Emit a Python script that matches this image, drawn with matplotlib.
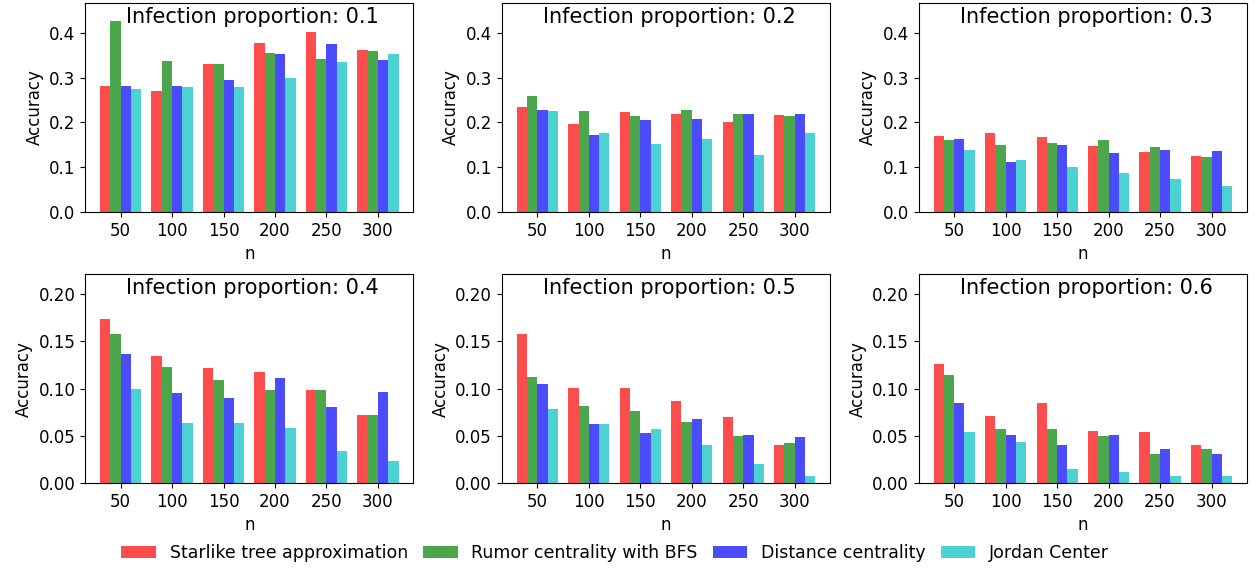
import numpy as np
import matplotlib
matplotlib.use("Agg")
import matplotlib.pyplot as plt

# Problem sizes on the x axis
n_values = [50, 100, 150, 200, 250, 300]
proportions = [0.1, 0.2, 0.3, 0.4, 0.5, 0.6]
methods = ["Starlike tree approximation", "Rumor centrality with BFS",
           "Distance centrality", "Jordan Center"]

# Accuracy per method, one row per n value
starlike = [
    [0.281, 0.271, 0.330, 0.378, 0.402, 0.361],  # 0.1
    [0.235, 0.196, 0.223, 0.219, 0.201, 0.216],  # 0.2
    [0.169, 0.176, 0.167, 0.147, 0.134, 0.124],  # 0.3
    [0.174, 0.134, 0.122, 0.118, 0.098, 0.072],  # 0.4
    [0.158, 0.101, 0.101, 0.087, 0.070, 0.040],  # 0.5
    [0.126, 0.071, 0.085, 0.055, 0.054, 0.040],  # 0.6
]
rumor = [
    [0.427, 0.337, 0.331, 0.356, 0.341, 0.360],
    [0.260, 0.225, 0.214, 0.227, 0.219, 0.214],
    [0.160, 0.149, 0.154, 0.161, 0.145, 0.122],
    [0.158, 0.123, 0.109, 0.098, 0.098, 0.072],
    [0.112, 0.082, 0.076, 0.065, 0.050, 0.042],
    [0.114, 0.057, 0.057, 0.050, 0.031, 0.036],
]
distance = [
    [0.281, 0.281, 0.295, 0.354, 0.375, 0.339],
    [0.227, 0.171, 0.205, 0.207, 0.219, 0.218],
    [0.163, 0.111, 0.149, 0.132, 0.138, 0.136],
    [0.137, 0.095, 0.090, 0.111, 0.080, 0.096],
    [0.105, 0.063, 0.053, 0.068, 0.051, 0.049],
    [0.085, 0.051, 0.040, 0.051, 0.036, 0.031],
]
jordan = [
    [0.274, 0.280, 0.279, 0.300, 0.336, 0.354],
    [0.225, 0.176, 0.152, 0.163, 0.128, 0.176],
    [0.139, 0.115, 0.100, 0.087, 0.074, 0.057],
    [0.100, 0.064, 0.064, 0.058, 0.034, 0.023],
    [0.078, 0.062, 0.057, 0.040, 0.020, 0.007],
    [0.054, 0.043, 0.015, 0.012, 0.007, 0.007],
]

colors = ["red", "green", "blue", "c"]
series = [starlike, rumor, distance, jordan]

fig, axes = plt.subplots(2, 3, figsize=(12.58, 5.69), dpi=100)
fig.subplots_adjust(left=0.0676, right=0.9913, bottom=0.151, top=0.9947,
                    wspace=0.269, hspace=0.299)

x = np.arange(len(n_values))
width = 0.2

for k, ax in enumerate(axes.flat):
    for j, data in enumerate(series):
        ax.bar(x + (j - 1.5) * width, data[k], width, color=colors[j],
               alpha=0.7, label=methods[j])
    ax.set_xticks(x)
    ax.set_xticklabels(n_values, fontsize=12)
    ax.tick_params(axis="y", labelsize=12)
    ax.set_xlabel("n", fontsize=12)
    ax.set_ylabel("Accuracy", fontsize=12)
    if k < 3:
        ax.set_ylim(0, 0.467)
        ax.set_yticks([0.0, 0.1, 0.2, 0.3, 0.4])
    else:
        ax.set_ylim(0, 0.221)
        ax.set_yticks([0.0, 0.05, 0.10, 0.15, 0.20])
        ax.set_yticklabels(["0.00", "0.05", "0.10", "0.15", "0.20"])
    # title sits inside the axes, near the top
    ax.text(0.51, 0.98, f"Infection proportion: {proportions[k]}",
            transform=ax.transAxes, ha="center", va="top", fontsize=15)

handles, labels = axes[0, 0].get_legend_handles_labels()
fig.legend(handles, labels, loc="center", bbox_to_anchor=(0.489, 0.028),
           ncol=4, frameon=False, fontsize=12.5, columnspacing=0.85)

fig.savefig("out.png", dpi=100)
